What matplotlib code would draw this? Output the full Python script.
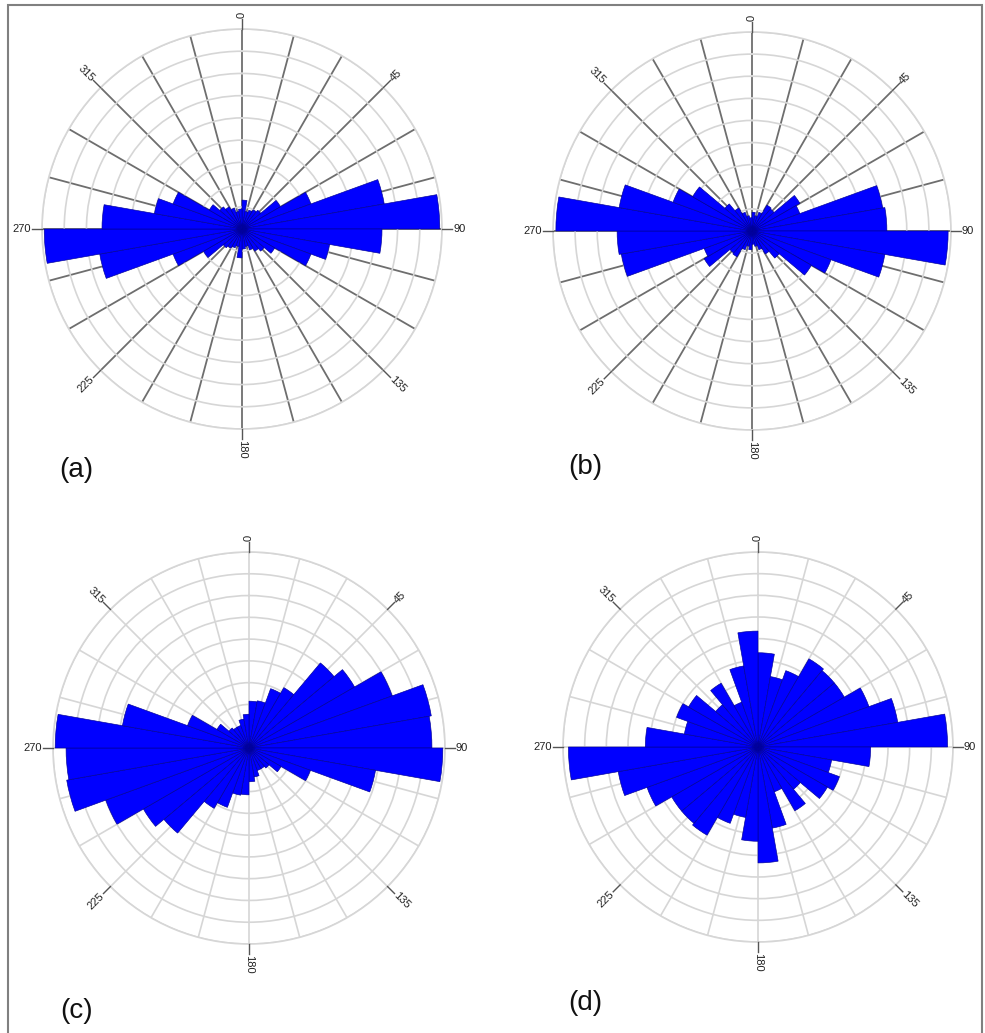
import numpy as np
import matplotlib
matplotlib.use("Agg")
import matplotlib.pyplot as plt
from matplotlib.patches import Rectangle

# 10-degree bins, azimuth measured clockwise from north
bin_starts = np.arange(0, 360, 10)

# Axial data: frequency per 10-degree bin over 0-180, mirrored onto 180-360
freq_a = [1.3, 0.8, 0.9, 1.0, 1.1, 2.0, 3.3, 6.5, 8.9,
          6.3, 4.0, 3.3, 1.7, 1.3, 1.15, 1.0, 0.8, 0.9]
freq_b = [0.85, 0.7, 0.9, 1.35, 1.3, 2.5, 2.3, 6.0, 6.1,
          8.87, 6.1, 3.8, 3.1, 1.6, 1.2, 0.9, 0.7, 0.6]
freq_c = [2.15, 2.2, 2.9, 3.2, 5.1, 5.6, 7.0, 8.5, 8.4,
          8.9, 5.9, 3.0, 1.7, 1.2, 1.1, 1.1, 1.35, 1.55]
freq_d = [4.35, 3.3, 3.75, 4.7, 4.6, 4.6, 5.45, 6.55, 8.75,
          5.2, 3.45, 4.0, 3.7, 2.55, 3.4, 2.2, 3.8, 5.35]

tick_angles = [0, 45, 90, 135, 180, 225, 270, 315]
tick_labels = ["0", "45", "90", "135", "180", "225", "270", "315"]
panel_labels = ["(a)", "(b)", "(c)", "(d)"]

W, H = 985, 1033
fig = plt.figure(figsize=(W / 100, H / 100), dpi=100)
fig.patch.set_facecolor("white")

RMAX = 9
BAR_COLOR = "#0000ff"
EDGE_COLOR = "#000096"
RING_COLOR = "#d6d6d6"


def add_rose(cx, cy, R, half_freq, dark_spokes):
    rect = [(cx - R) / W, (H - (cy + R)) / H, 2 * R / W, 2 * R / H]
    ax = fig.add_axes(rect, projection="polar")
    ax.set_theta_zero_location("N")
    ax.set_theta_direction(-1)

    vals = np.concatenate([half_freq, half_freq])
    theta = np.deg2rad(bin_starts + 5)
    ax.bar(theta, vals, width=np.deg2rad(10), bottom=0,
           color=BAR_COLOR, edgecolor=EDGE_COLOR, linewidth=0.45, zorder=2)

    ax.set_ylim(0, RMAX)
    ax.set_yticks(np.arange(1, RMAX + 1))
    ax.set_yticklabels([])
    ax.set_xticks(np.deg2rad(np.arange(0, 360, 15)))
    ax.set_xticklabels([])
    ax.tick_params(axis="both", length=0)
    ax.set_axisbelow(True)

    spoke_color = "#6e6e6e" if dark_spokes else RING_COLOR
    ax.xaxis.grid(True, color=spoke_color, linewidth=1.3 if dark_spokes else 1.2)
    ax.yaxis.grid(True, color=RING_COLOR, linewidth=1.2)
    ax.spines["polar"].set_color(RING_COLOR)
    ax.spines["polar"].set_linewidth(1.2)

    for ang, lab in zip(tick_angles, tick_labels):
        t = np.deg2rad(ang)
        ax.plot([t, t], [RMAX, RMAX * 1.05], color="#555555", lw=1.0,
                clip_on=False, zorder=3)
        if ang <= 180:
            rot, ha = 90 - ang, "left"
        else:
            rot, ha = 270 - ang, "right"
        ax.text(t, RMAX * 1.055, lab, rotation=rot, rotation_mode="anchor",
                ha=ha, va="center", fontsize=8, color="#222222",
                family=["Liberation Sans", "DejaVu Sans"], clip_on=False)
    return ax


add_rose(242, 229, 200, freq_a, True)
add_rose(752, 231, 199, freq_b, True)
add_rose(249, 748, 196, freq_c, False)
add_rose(758, 747, 195, freq_d, False)

label_pos = [(76, 470), (585, 467), (77, 1011), (585, 1003)]
for lab, (x, y) in zip(panel_labels, label_pos):
    fig.text(x / W, 1 - y / H, lab, ha="center", va="center", fontsize=20,
             color="#111111", family=["Liberation Sans", "DejaVu Sans"])

# thin frame around the whole figure
fig.patches.append(Rectangle((8 / W, -0.02), (982 - 8) / W, 1 - 5 / H + 0.02,
                             transform=fig.transFigure, fill=False,
                             edgecolor="#808080", linewidth=1.5))

fig.savefig("out.png", dpi=100, facecolor="white")
